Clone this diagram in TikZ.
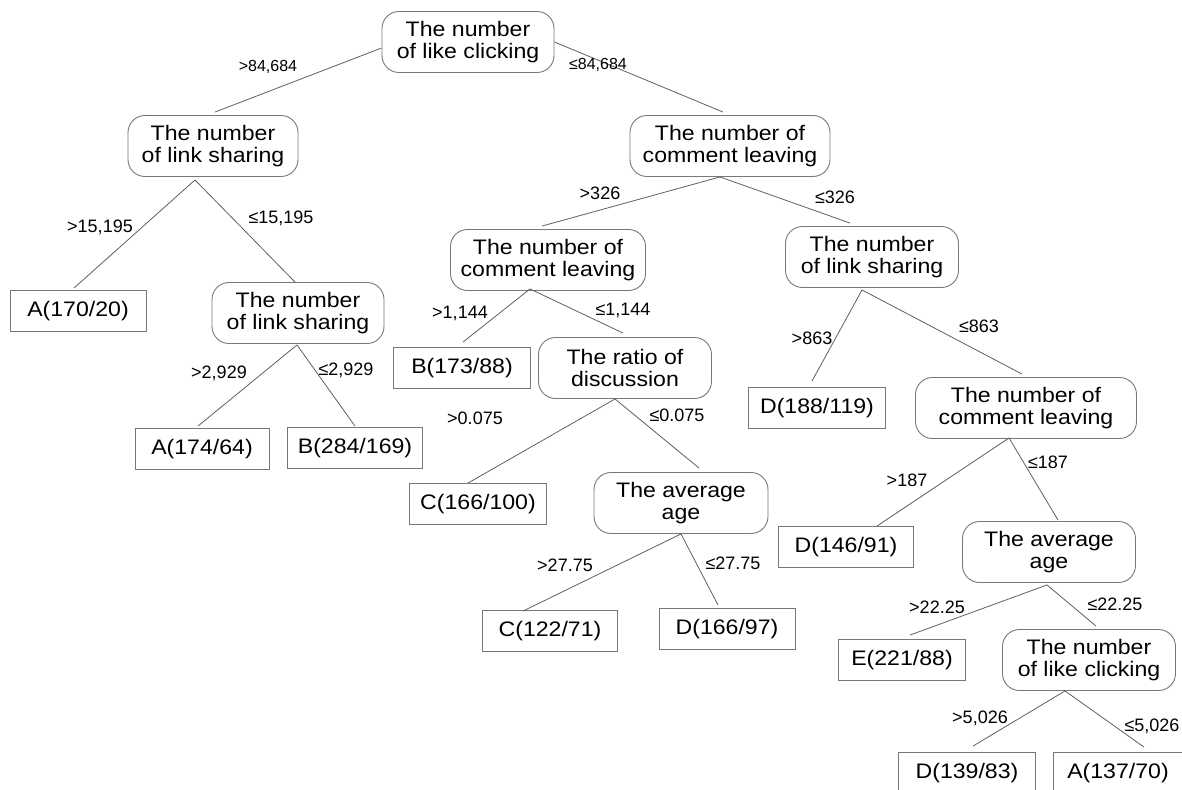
\documentclass[tikz,border=0pt]{standalone}
\usepackage{fontspec}
\setmainfont{Liberation Sans}
\newfontfamily\treefont{Liberation Sans}[FakeStretch=1.1]
\definecolor{edgegray}{RGB}{95,95,95}
\definecolor{boxgray}{RGB}{120,120,120}

\begin{document}
\begin{tikzpicture}[
  x=1pt, y=-1pt,
  splitnode/.style={
    rounded corners=17pt,
    draw=boxgray,
    line width=0.9pt,
    align=center,
    inner sep=0pt,
    minimum width=172pt,
    minimum height=61pt,
    font=\fontsize{21}{22}\treefont
  },
  leafnode/.style={
    draw=boxgray,
    line width=0.9pt,
    inner sep=0pt,
    minimum width=136pt,
    minimum height=41pt,
    font=\fontsize{21}{22}\treefont
  },
  branch/.style={draw=edgegray, line width=0.8pt},
  condlabel/.style={inner sep=0pt, font=\fontsize{18}{20}\selectfont}
]
\useasboundingbox (0,0) rectangle (1182,789);

% split nodes
\node[splitnode] (root) at (468,42) {The number\\of like clicking};
\node[splitnode, minimum width=170pt] (ls1) at (213,146) {The number\\of link sharing};
\node[splitnode] (ls2) at (298,313) {The number\\of link sharing};
\node[splitnode, minimum width=200pt] (cl1) at (730,146) {The number of\\comment leaving};
\node[splitnode, minimum width=195pt] (cl2) at (548,260) {The number of\\comment leaving};
\node[splitnode, minimum width=173pt] (ls3) at (872,257) {The number\\of link sharing};
\node[splitnode, minimum width=173pt] (rd) at (625,368) {The ratio of\\discussion};
\node[splitnode, minimum width=221pt] (cl3) at (1026,408) {The number of\\comment leaving};
\node[splitnode, minimum width=174pt] (ag1) at (681,503) {The average\\age};
\node[splitnode, minimum width=173pt] (ag2) at (1049,552) {The average\\age};
\node[splitnode, minimum width=173pt] (lc2) at (1089,660) {The number\\of like clicking};

% leaves
\node[leafnode] (a170) at (78,311) {A(170/20)};
\node[leafnode, minimum width=134pt] (a174) at (202,449) {A(174/64)};
\node[leafnode, minimum width=135pt] (b284) at (355,448) {B(284/169)};
\node[leafnode, minimum width=137pt] (b173) at (462,368) {B(173/88)};
\node[leafnode, minimum width=137pt] (d188) at (817,408) {D(188/119)};
\node[leafnode, minimum width=137pt] (c166) at (478,504) {C(166/100)};
\node[leafnode, minimum width=135pt] (d146) at (846,547) {D(146/91)};
\node[leafnode, minimum width=135pt] (c122) at (550,631) {C(122/71)};
\node[leafnode] (d166) at (727,629) {D(166/97)};
\node[leafnode, minimum width=127pt] (e221) at (902,660) {E(221/88)};
\node[leafnode, minimum width=137pt] (d139) at (967,773) {D(139/83)};
\node[leafnode, minimum width=130pt] (a137) at (1118,773) {A(137/70)};

% branches
\draw[branch] ([yshift=-6pt]root.west) -- ([xshift=2pt,yshift=3pt]ls1.north);
\draw[branch] (root.east) -- ([xshift=-7pt,yshift=3pt]cl1.north);
\draw[branch] ([xshift=-18pt,yshift=-3pt]ls1.south) -- ([xshift=-4pt,yshift=2pt]a170.north);
\draw[branch] ([xshift=-18pt,yshift=-3pt]ls1.south) -- ([xshift=-3pt]ls2.north);
\draw[branch] ([xshift=-1pt,yshift=-1pt]ls2.south) -- ([xshift=-4pt,yshift=2pt]a174.north);
\draw[branch] ([xshift=-1pt,yshift=-1pt]ls2.south) -- ([yshift=1pt]b284.north);
\draw[branch] ([xshift=-10pt]cl1.south) -- ([xshift=-6pt,yshift=3pt]cl2.north);
\draw[branch] ([xshift=-10pt]cl1.south) -- ([xshift=-22pt,yshift=3pt]ls3.north);
\draw[branch] ([xshift=-18pt,yshift=2pt]cl2.south) -- ([xshift=1pt,yshift=5pt]b173.north);
\draw[branch] ([xshift=-18pt,yshift=2pt]cl2.south) -- ([xshift=-2pt,yshift=4pt]rd.north);
\draw[branch] ([xshift=-10pt]rd.south) -- ([xshift=-10pt]c166.north);
\draw[branch] ([xshift=-10pt]rd.south) -- ([xshift=18pt,yshift=4pt]ag1.north);
\draw[branch] (ag1.south) -- ([xshift=-27pt,yshift=-1pt]c122.north);
\draw[branch] (ag1.south) -- ([xshift=-9pt,yshift=3pt]d166.north);
\draw[branch] ([xshift=-10pt,yshift=-2pt]ls3.south) -- ([xshift=-5pt,yshift=6pt]d188.north);
\draw[branch] ([xshift=-10pt,yshift=-2pt]ls3.south) -- ([xshift=-4pt,yshift=3pt]cl3.north);
\draw[branch] ([xshift=-17pt,yshift=1pt]cl3.south) -- ([xshift=31pt]d146.north);
\draw[branch] ([xshift=-17pt,yshift=1pt]cl3.south) -- ([xshift=9pt,yshift=1pt]ag2.north);
\draw[branch] ([xshift=-2pt,yshift=-2pt]ag2.south) -- ([xshift=8pt,yshift=4pt]e221.north);
\draw[branch] ([xshift=-2pt,yshift=-2pt]ag2.south) -- ([xshift=7pt,yshift=3pt]lc2.north);
\draw[branch] ([xshift=-24pt]lc2.south) -- ([xshift=6pt,yshift=6pt]d139.north);
\draw[branch] ([xshift=-24pt]lc2.south) -- ([xshift=26pt,yshift=5pt]a137.north);

% split conditions
\node[condlabel, font=\fontsize{16}{18}\selectfont] (c-root-gt) at (268,67) {>84,684};
\node[condlabel, font=\fontsize{16}{18}\selectfont] (c-root-le) at (598,65) {≤84,684};
\node[condlabel] (c-ls1-gt) at (100,227) {>15,195};
\node[condlabel] (c-ls1-le) at (281,218) {≤15,195};
\node[condlabel] (c-ls2-gt) at (219,373) {>2,929};
\node[condlabel] (c-ls2-le) at (346,370) {≤2,929};
\node[condlabel] (c-cl1-gt) at (600,193) {>326};
\node[condlabel] (c-cl1-le) at (835,197) {≤326};
\node[condlabel] (c-cl2-gt) at (460,313) {>1,144};
\node[condlabel] (c-cl2-le) at (623,310) {≤1,144};
\node[condlabel] (c-rd-gt) at (475,418) {>0.075};
\node[condlabel] (c-rd-le) at (677,415) {≤0.075};
\node[condlabel] (c-ag1-gt) at (565,565) {>27.75};
\node[condlabel] (c-ag1-le) at (733,563) {≤27.75};
\node[condlabel] (c-ls3-gt) at (812,338) {>863};
\node[condlabel] (c-ls3-le) at (979,326) {≤863};
\node[condlabel] (c-cl3-gt) at (907,480) {>187};
\node[condlabel] (c-cl3-le) at (1048,462) {≤187};
\node[condlabel] (c-ag2-gt) at (937,607) {>22.25};
\node[condlabel] (c-ag2-le) at (1115,604) {≤22.25};
\node[condlabel] (c-lc2-gt) at (980,718) {>5,026};
\node[condlabel] (c-lc2-le) at (1152,726) {≤5,026};

\end{tikzpicture}
\end{document}
